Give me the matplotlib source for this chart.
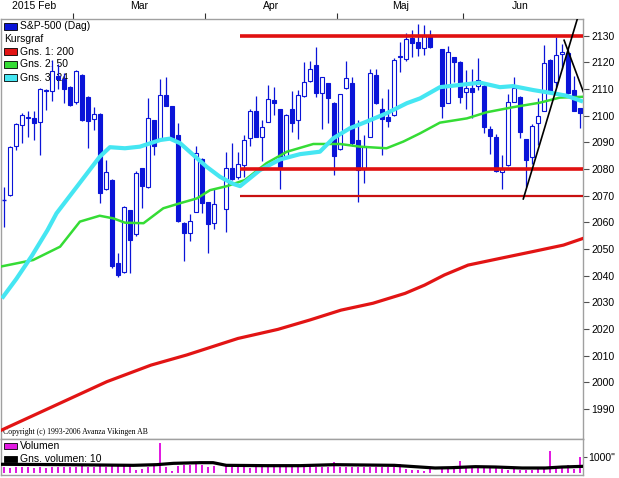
import numpy as np
import matplotlib.pyplot as plt
from matplotlib.patches import Rectangle

plt.rcParams['font.family'] = ['Liberation Sans', 'DejaVu Sans']

nan = np.nan
# S&P-500 daily candles, 2015-02-11 .. 2015-06-26 (slot 36 and 72 are empty days)
opens = [2068.4, 2070.3, 2088.8, 2096.4, 2099.2, 2099.0, 2097.5, 2109.6, 2109.3, 2114.9,
         2113.6, 2110.9, 2105.3, 2115.3, 2107.1, 2098.6, 2100.6, 2072.4, 2075.9, 2044.6,
         2041.3, 2064.6, 2055.5, 2080.4, 2073.1, 2098.4, 2091.3, 2107.8, 2103.6, 2092.8,
         2059.9, 2055.9, 2064.0, 2083.9, 2067.5, 2059.9, nan, 2064.9, 2080.5, 2076.9,
         2081.5, 2091.5, 2101.8, 2092.1, 2097.8, 2105.9, 2102.4, 2084.6, 2102.4, 2098.4,
         2107.4, 2113.0, 2119.0, 2108.4, 2112.1, 2104.9, 2087.4, 2110.3, 2112.2, 2090.9,
         2079.9, 2092.1, 2115.3, 2102.4, 2099.6, 2100.3, 2121.9, 2121.1, 2129.0, 2127.8,
         2125.5, 2130.0, nan, 2124.9, 2104.9, 2121.9, 2120.3, 2109.0, 2110.3, 2111.1,
         2111.1, 2094.9, 2092.1, 2079.0, 2081.5, 2105.3, 2106.9, 2091.1, 2084.4, 2097.4,
         2101.9, 2120.9, 2112.8, 2123.0, 2123.4, 2109.6, 2102.8]
highs = [2073.4, 2088.5, 2097.3, 2100.9, 2101.9, 2101.9, 2110.3, 2110.0, 2120.9, 2119.4,
         2115.9, 2111.2, 2117.0, 2115.8, 2107.5, 2103.4, 2101.0, 2083.4, 2076.2, 2048.4,
         2066.1, 2064.7, 2079.3, 2080.5, 2106.5, 2098.5, 2113.6, 2114.6, 2103.8, 2097.1,
         2060.1, 2063.1, 2088.6, 2084.1, 2067.7, 2072.4, nan, 2086.5, 2089.6, 2086.3,
         2092.8, 2102.4, 2107.4, 2098.4, 2111.5, 2110.9, 2102.5, 2100.5, 2109.3, 2109.6,
         2120.3, 2120.5, 2125.9, 2114.5, 2112.2, 2105.0, 2108.1, 2120.5, 2114.5, 2098.4,
         2092.8, 2117.4, 2117.4, 2106.5, 2109.9, 2121.5, 2127.8, 2131.1, 2132.1, 2134.4,
         2133.9, 2132.0, nan, 2125.0, 2126.0, 2122.2, 2120.5, 2117.1, 2117.6, 2121.5,
         2112.8, 2096.0, 2093.0, 2085.3, 2108.0, 2114.6, 2107.3, 2091.3, 2097.0, 2106.6,
         2126.5, 2121.3, 2129.6, 2126.9, 2125.0, 2115.0, 2103.0]
lows = [2058.4, 2070.0, 2087.0, 2089.9, 2092.1, 2090.9, 2085.3, 2102.1, 2105.6, 2109.9,
        2104.6, 2103.5, 2104.5, 2098.0, 2087.8, 2094.6, 2067.4, 2072.0, 2043.0, 2039.6,
        2041.0, 2041.1, 2055.0, 2065.3, 2072.8, 2085.3, 2091.0, 2103.5, 2091.3, 2060.0,
        2045.6, 2053.1, 2063.9, 2063.6, 2048.4, 2057.4, nan, 2056.5, 2076.0, 2076.1,
        2077.2, 2088.5, 2091.9, 2083.0, 2097.6, 2100.3, 2072.4, 2084.0, 2094.0, 2091.1,
        2107.0, 2112.5, 2106.9, 2094.9, 2097.4, 2077.8, 2087.2, 2110.0, 2088.5, 2067.8,
        2074.9, 2092.0, 2104.5, 2085.3, 2095.9, 2100.0, 2116.5, 2120.5, 2122.1, 2122.4,
        2122.9, 2125.5, nan, 2099.0, 2104.8, 2112.8, 2104.9, 2102.4, 2099.2, 2109.6,
        2093.4, 2085.7, 2079.0, 2072.4, 2081.1, 2105.0, 2091.5, 2073.4, 2082.0, 2088.9,
        2101.6, 2108.8, 2110.6, 2117.4, 2108.3, 2101.8, 2095.3]
closes = [2068.4, 2088.1, 2096.8, 2100.1, 2099.7, 2097.1, 2109.9, 2109.3, 2116.9, 2113.6,
          2110.0, 2104.0, 2116.9, 2098.4, 2098.1, 2100.6, 2070.9, 2079.0, 2043.6, 2040.3,
          2065.6, 2053.4, 2078.4, 2073.8, 2099.0, 2088.6, 2107.8, 2103.6, 2091.5, 2060.5,
          2055.9, 2060.5, 2085.9, 2067.1, 2059.4, 2066.8, nan, 2080.3, 2076.1, 2081.8,
          2090.9, 2101.8, 2092.1, 2095.6, 2106.2, 2104.6, 2080.9, 2100.3, 2097.1, 2107.8,
          2112.8, 2117.4, 2108.4, 2114.4, 2106.5, 2084.9, 2108.0, 2114.0, 2089.6, 2079.6,
          2088.4, 2115.9, 2104.9, 2098.6, 2098.1, 2120.9, 2122.4, 2128.6, 2127.4, 2125.5,
          2130.0, 2125.7, nan, 2103.6, 2124.0, 2120.3, 2106.9, 2110.5, 2109.0, 2113.4,
          2095.6, 2092.4, 2079.2, 2079.9, 2105.3, 2110.3, 2094.0, 2083.4, 2096.1, 2099.9,
          2119.9, 2109.0, 2122.8, 2123.8, 2108.4, 2101.9, 2101.2]
volume = [394, 352, 394, 394, 394, 352, 394, 352, 394, 394,
          394, 394, 394, 455, 394, 394, 495, 394, 455, 455,
          455, 455, 192, 253, 394, 455, 1830, 394, 152, 455,
          495, 495, 556, 495, 394, 455, nan, 455, 394, 394,
          394, 352, 394, 394, 394, 394, 495, 394, 394, 394,
          394, 394, 394, 394, 394, 697, 394, 394, 394, 394,
          394, 394, 394, 394, 394, 394, 556, 253, 192, 192,
          152, 253, nan, 394, 253, 394, 758, 455, 394, 455,
          394, 455, 394, 253, 192, 394, 192, 192, 192, 253,
          394, 1364, 394, 394, 495, 253, 1000]

# moving averages (day index, value)
ma200_x = [-0.4, 17.1, 24.45, 30.4, 38.95, 45.6, 50.9, 56.1, 61.45, 66.8, 70.05, 73.35,
           77.3, 82.6, 87.95, 93.2, 96.45]
ma200_y = [1982.2, 2000.3, 2006.5, 2010.3, 2016.5, 2019.9, 2023.4, 2027.1, 2029.7, 2033.4,
           2036.5, 2040.3, 2044.0, 2046.5, 2049.0, 2051.5, 2054.0]
ma50_x = [-0.7, 4.8, 9.3, 12.6, 15.9, 18.2, 20.1, 23.2, 26.5, 29.3, 32.1, 34.3, 37.1, 40.1,
          43.7, 47.1, 51.5, 55.95, 59.3, 63.7, 66.5, 69.3, 72.6, 77.1, 80.4, 84.8, 89.3,
          92.6, 96.5]
ma50_y = [2043.4, 2045.9, 2050.9, 2060.3, 2062.5, 2061.5, 2059.9, 2059.7, 2065.3, 2067.2,
          2069.0, 2072.1, 2073.6, 2075.9, 2082.2, 2086.5, 2089.4, 2089.4, 2088.4, 2087.8,
          2090.3, 2093.4, 2097.4, 2099.0, 2101.3, 2103.2, 2104.9, 2106.8, 2107.1]
ma24_x = [-0.4, 2.0, 4.6, 7.2, 8.7, 12.1, 15.9, 17.6, 20.1, 22.6, 26.0, 27.6, 29.3, 31.5,
          33.7, 35.95, 38.2, 39.3, 42.6, 45.95, 49.3, 52.6, 54.8, 57.6, 60.4, 63.7, 67.1,
          69.3, 72.6, 79.3, 82.6, 84.8, 88.2, 91.5, 93.7, 96.45]
ma24_y = [2031.5, 2038.8, 2047.5, 2057.1, 2063.4, 2073.4, 2084.6, 2088.2, 2087.8, 2088.4,
          2090.9, 2091.4, 2089.7, 2085.3, 2080.9, 2077.1, 2074.4, 2073.6, 2079.6, 2083.6,
          2085.6, 2086.5, 2091.5, 2095.3, 2097.8, 2100.9, 2104.7, 2106.5, 2110.7, 2112.4,
          2110.7, 2111.1, 2109.6, 2108.4, 2107.5, 2105.3]
vol_ma_x = [-0.7, 10.4, 21.5, 25.4, 28.2, 32.6, 34.8, 37.0, 43.7, 49.3, 55.0, 65.0, 68.4,
            71.8, 74.6, 78.5, 81.8, 86.3, 90.2, 93.0, 96.5]
vol_ma_y = [558, 535, 495, 535, 616, 656, 656, 495, 475, 475, 535, 495, 414, 333, 354, 414,
            394, 333, 333, 394, 434]

levels = [2130, 2080, 2070]
level_start = 39.3
trend_up = ([86.5, 95.6], [2068.8, 2137.0])
trend_down = ([93.3, 96.5], [2128.3, 2109.0])

month_ticks = [11.5, 33.5, 55.5, 76.5]
month_names = ['2015 Feb', 'Mar', 'Apr', 'Maj', 'Jun']
month_pos = [5.0, 22.5, 44.5, 66.0, 86.0]

blue = '#0a14d8'
W, H = 619, 478

fig = plt.figure(figsize=(W / 100, H / 100), dpi=100)
ax = fig.add_axes([1 / W, 1 - 439 / H, 582 / W, 420 / H])
axv = fig.add_axes([1 / W, 1 - 475 / H, 582 / W, 36 / H])

idx = np.arange(len(closes))
o = np.array(opens)
c = np.array(closes)
h = np.array(highs)
l = np.array(lows)
ok = ~np.isnan(c)

# candles
ax.vlines(idx[ok], l[ok], h[ok], color=blue, lw=0.9, zorder=2)
up = ok & (c > o + 0.2)
dn = ok & (c < o - 0.2)
flat = ok & ~up & ~dn
ax.bar(idx[up], c[up] - o[up], bottom=o[up], width=0.62, facecolor='white',
       edgecolor=blue, lw=0.8, zorder=3)
ax.bar(idx[dn], o[dn] - c[dn], bottom=c[dn], width=0.62, facecolor=blue,
       edgecolor=blue, lw=0.8, zorder=3)
ax.hlines(c[flat], idx[flat] - 0.35, idx[flat] + 0.35, color=blue, lw=1.0, zorder=3)

# moving averages
ax.plot(ma200_x, ma200_y, color='#e21414', lw=2.3, zorder=4)
ax.plot(ma50_x, ma50_y, color='#35dc35', lw=1.8, zorder=4)
ax.plot(ma24_x, ma24_y, color='#45e6f2', lw=3.0, zorder=4, solid_capstyle='butt')

# support / resistance and trend lines
ax.hlines(levels[:2], level_start, 96.6, color='#e01010', lw=2.6, zorder=5)
ax.hlines(levels[2], level_start, 96.6, color='#c81010', lw=1.6, zorder=5)
ax.plot(*trend_up, color='black', lw=1.2, zorder=6)
ax.plot(*trend_down, color='black', lw=1.2, zorder=6)

ax.set_xlim(-0.55, 96.45)
ax.set_ylim(1978.8, 2136.26)
ax.yaxis.tick_right()
ax.set_yticks(range(1990, 2131, 10))
ax.tick_params(axis='y', direction='out', length=4, width=0.8, color='#505050',
               labelsize=7.5, pad=2)
ax.xaxis.tick_top()
ax.set_xticks(month_ticks)
ax.set_xticklabels([])
ax.tick_params(axis='x', direction='out', length=4, width=0.8, color='#303030')
for name, pos in zip(month_names, month_pos):
    ax.text(pos, 1.03, name, transform=ax.get_xaxis_transform(), ha='center',
            va='center', fontsize=7.5)

# legend in the chart corner
tf = fig.transFigure
legend_rows = [(26, blue, 'S&P-500 (Dag)'), (39, None, 'Kursgraf'),
               (51.7, '#e21414', 'Gns. 1: 200'), (64.3, '#35dc35', 'Gns. 2: 50'),
               (77.7, '#45e6f2', 'Gns. 3: 24')]
for yy, col, label in legend_rows:
    if col is not None:
        ax.add_patch(Rectangle((4 / W, 1 - (yy + 3.5) / H), 13 / W, 7 / H, transform=tf,
                               facecolor=col, edgecolor='black', lw=0.6, zorder=1,
                               clip_on=False))
        tx = 20
    else:
        tx = 4
    ax.text(tx / W, 1 - yy / H, label, transform=tf, va='center', fontsize=7.5, zorder=1)
ax.text(3 / W, 1 - 432 / H, 'Copyright (c) 1993-2006 Avanza Vikingen AB', transform=tf,
        va='center', fontsize=5.6, family='Liberation Serif', zorder=1)

# volume panel
v = np.array(volume, dtype=float)
vok = ~np.isnan(v)
axv.bar(idx[vok], v[vok], width=0.34, color='#e11be1', zorder=2)
axv.plot(vol_ma_x, vol_ma_y, color='black', lw=2.3, zorder=3)
axv.set_xlim(-0.55, 96.45)
axv.set_ylim(-91, 2090)
axv.set_xticks([])
axv.yaxis.tick_right()
axv.set_yticks([1000])
axv.set_yticklabels(['1000"'])
axv.tick_params(axis='y', direction='out', length=3, width=0.8, color='#505050',
                labelsize=7.5, pad=1)
for yy, col, label in [(446, '#e11be1', 'Volumen'), (459.3, 'black', 'Gns. volumen: 10')]:
    axv.add_patch(Rectangle((4 / W, 1 - (yy + 3) / H), 13 / W, 6 / H, transform=tf,
                            facecolor=col, edgecolor='black', lw=0.6, zorder=1,
                            clip_on=False))
    axv.text(20 / W, 1 - yy / H, label, transform=tf, va='center', fontsize=7.5, zorder=1)

for a in (ax, axv):
    for s in a.spines.values():
        s.set_color('#a0a0a0')
        s.set_linewidth(1.0)

fig.savefig('out.png', dpi=100)
